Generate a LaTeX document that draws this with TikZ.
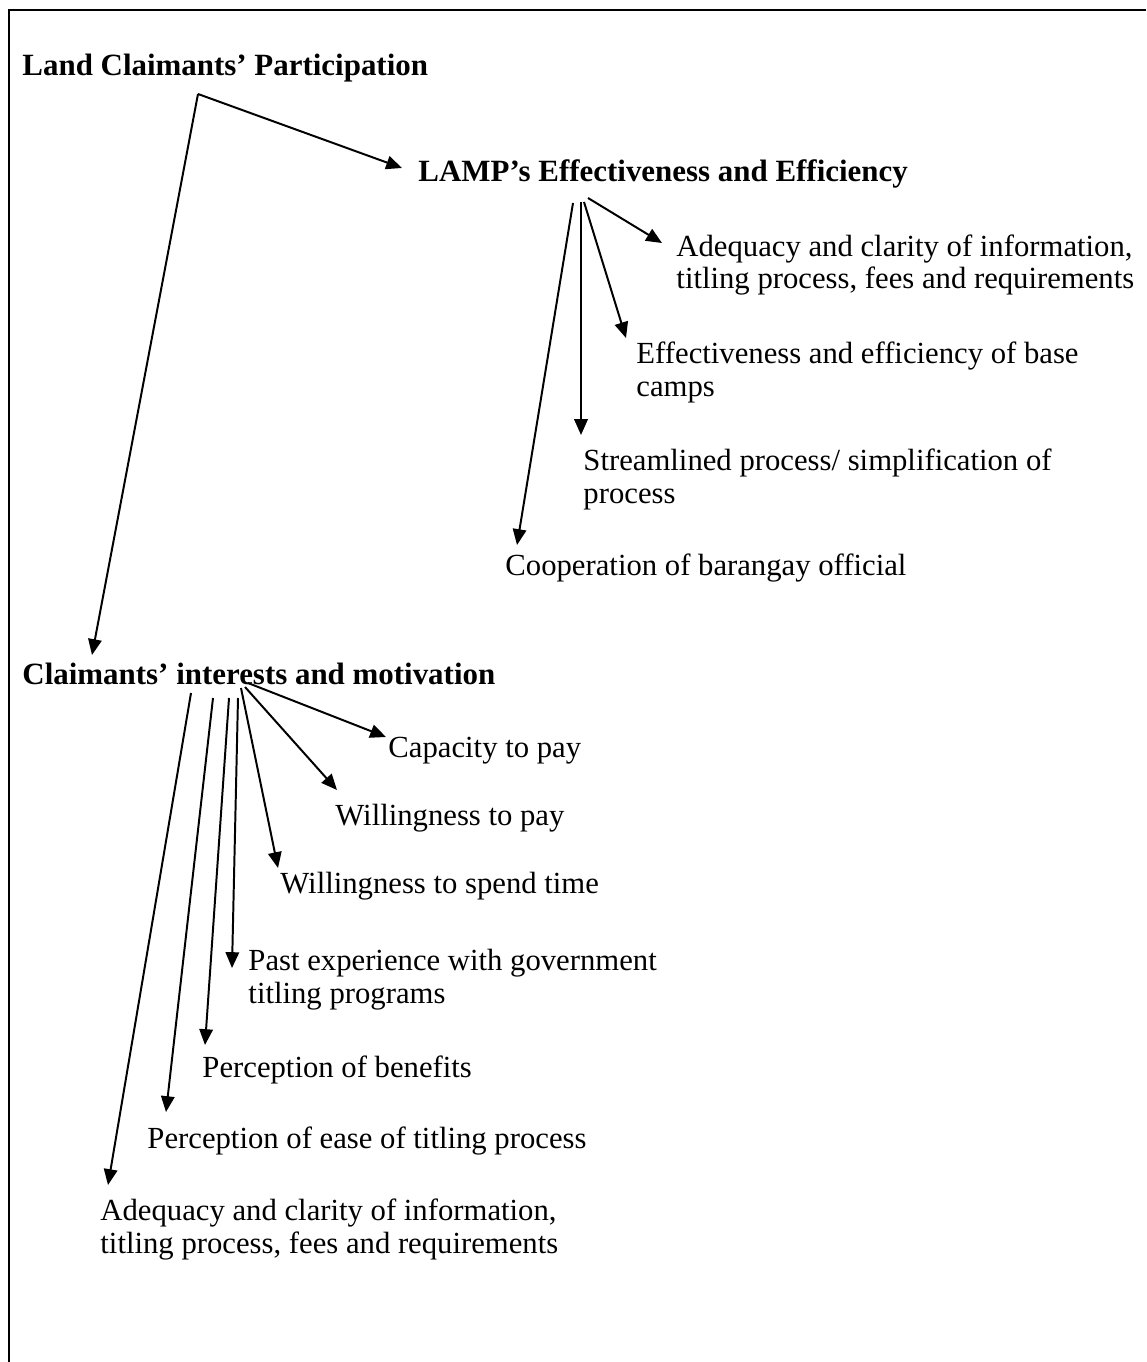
\documentclass[tikz,border=0pt]{standalone}
\usepackage{fontspec}
\setmainfont{Liberation Serif}
\usetikzlibrary{arrows.meta}
\begin{document}
\begin{tikzpicture}[x=0.43pt,y=-0.43pt,
  txt/.style={anchor=base west,inner sep=0pt,align=left,font=\fontsize{13.2}{13.8}\selectfont},
  head/.style={txt,font=\fontsize{13.3}{13.8}\selectfont\bfseries},
  arr/.style={-{Triangle[length=6.8pt,width=5.8pt]},line width=0.85pt},
  frame/.style={line width=1.2pt}]
\useasboundingbox (0,0) rectangle (1146,1362);
% partial frame
\coordinate (ftr) at (1146,10);
\coordinate (ftl) at (9,10);
\coordinate (fbl) at (9,1362);
\draw[frame] (ftr) -- (ftl) -- (fbl);
% headings
\node[head] (lcp) at (22,76) {Land Claimants’ Participation};
\node[head] (lamp) at (418,182) {LAMP’s Effectiveness and Efficiency};
\node[head] (cim) at (22,684) {Claimants’ interests and motivation};
% LAMP items (multi-line nodes: base = last line)
\node[txt] (l1) at (676,289) {Adequacy and clarity of information,\\titling process, fees and requirements};
\node[txt] (l2) at (636,396) {Effectiveness and efficiency of base\\camps};
\node[txt] (l3) at (583,503) {Streamlined process/ simplification of\\process};
\node[txt] (l4) at (505,575) {Cooperation of barangay official};
% Claimants items
\node[txt] (c1) at (388,757) {Capacity to pay};
\node[txt] (c2) at (335,825) {Willingness to pay};
\node[txt] (c3) at (280,893) {Willingness to spend time};
\node[txt] (c4) at (248,1003) {Past experience with government\\titling programs};
\node[txt] (c5) at (202,1077) {Perception of benefits};
\node[txt] (c6) at (147,1148) {Perception of ease of titling process};
\node[txt] (c7) at (100,1253) {Adequacy and clarity of information,\\titling process, fees and requirements};
% connector end points
\coordinate (lcpout) at (198,94);
\coordinate (lampin) at (402,168);
\coordinate (cimin) at (92,655);
\coordinate (lo1) at (588,198);
\coordinate (lo2) at (584,202);
\coordinate (lo3) at (581,202);
\coordinate (lo4) at (573,203);
\coordinate (li1) at (662,243);
\coordinate (li2) at (626,338);
\coordinate (li3) at (581,435);
\coordinate (li4) at (517,545);
\coordinate (co1) at (248,683);
\coordinate (co2) at (245,687);
\coordinate (co3) at (241,688);
\coordinate (co4) at (238,698);
\coordinate (co5) at (229,698);
\coordinate (co6) at (213,698);
\coordinate (co7) at (191,693);
\coordinate (ci1) at (386,737);
\coordinate (ci2) at (337,790);
\coordinate (ci3) at (278,868);
\coordinate (ci4) at (232,968);
\coordinate (ci5) at (205,1045);
\coordinate (ci6) at (166,1112);
\coordinate (ci7) at (108,1185);
% connectors
\draw[arr] (lcpout) -- (lampin);
\draw[arr] (lcpout) -- (cimin);
\draw[arr] (lo1) -- (li1);
\draw[arr] (lo2) -- (li2);
\draw[arr] (lo3) -- (li3);
\draw[arr] (lo4) -- (li4);
\draw[arr] (co1) -- (ci1);
\draw[arr] (co2) -- (ci2);
\draw[arr] (co3) -- (ci3);
\draw[arr] (co4) -- (ci4);
\draw[arr] (co5) -- (ci5);
\draw[arr] (co6) -- (ci6);
\draw[arr] (co7) -- (ci7);
\end{tikzpicture}
\end{document}
